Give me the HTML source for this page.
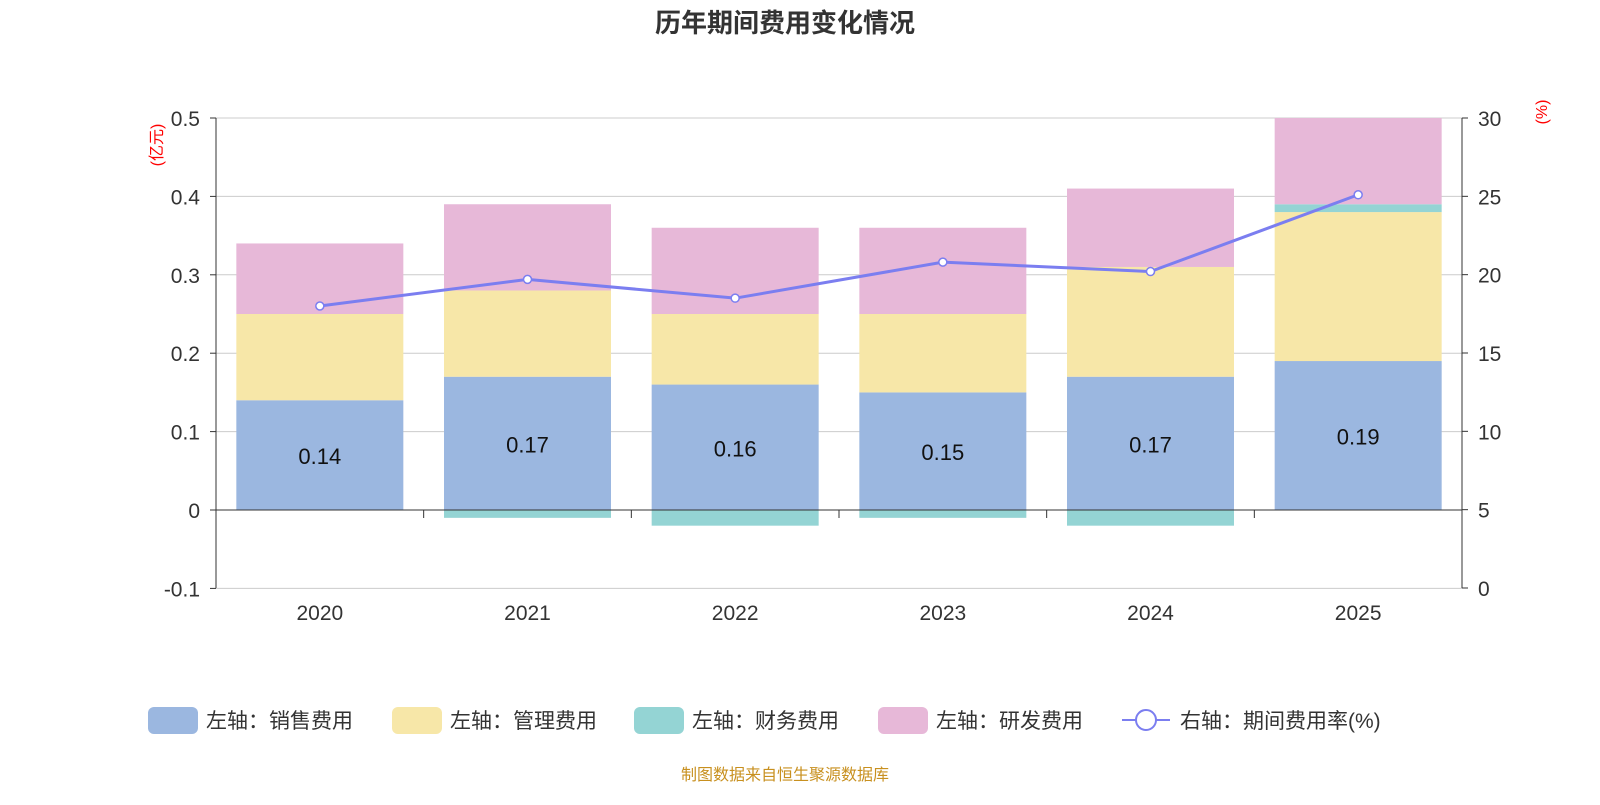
<!DOCTYPE html>
<html><head><meta charset="utf-8"><style>
body{margin:0;background:#fff;width:1600px;height:800px;overflow:hidden;font-family:"Liberation Sans","Noto Sans CJK SC",sans-serif}
svg text{font-family:"Liberation Sans","Noto Sans CJK SC",sans-serif}
</style></head><body>
<svg id="c" width="1600" height="800"></svg>
<script>
const categories=["2020","2021","2022","2023","2024","2025"];
const sales=[0.14,0.17,0.16,0.15,0.17,0.19];
const mgmt=[0.11,0.11,0.09,0.10,0.14,0.19];
const fin=[0,-0.01,-0.02,-0.01,-0.02,0.01];
const rnd=[0.09,0.11,0.11,0.11,0.10,0.11];
const rate=[18.0,19.7,18.5,20.8,20.2,25.1];
const leftTicks=[0.5,0.4,0.3,0.2,0.1,0,-0.1];
const rightTicks=[30,25,20,15,10,5,0];
const NS="http://www.w3.org/2000/svg",svg=document.getElementById('c');
const X0=216,X1=1462,bw=(X1-X0)/6;
const yL=v=>510-v*784, yR=v=>588-v*(470/30), xC=i=>X0+bw*(i+0.5);
function mk(t,a,txt){const e=document.createElementNS(NS,t);for(const k in a)e.setAttribute(k,a[k]);if(txt!=null)e.textContent=txt;svg.appendChild(e);return e;}
let e=mk('text',{x:785,y:32,'text-anchor':'middle','font-size':26,'font-weight':'bold',fill:'#333'},'历年期间费用变化情况');

leftTicks.forEach(v=>{let g=mk('line',{x1:X0,x2:X1,y1:yL(v),y2:yL(v),stroke:'#ccc'});

let t=mk('text',{x:200,y:yL(v)+8,'text-anchor':'end','font-size':21,fill:'#333'},String(v));

mk('line',{x1:X0-6,x2:X0,y1:yL(v),y2:yL(v),stroke:'#333'});});
rightTicks.forEach(v=>{let t=mk('text',{x:1478,y:yR(v)+8,'font-size':21,fill:'#333'},String(v));

mk('line',{x1:X1,x2:X1+6,y1:yR(v),y2:yR(v),stroke:'#333'});});
mk('line',{x1:X0,x2:X0,y1:118,y2:588,stroke:'#333'});
mk('line',{x1:X1,x2:X1,y1:118,y2:588,stroke:'#333'});
e=mk('text',{transform:'translate(162,145) rotate(-90)','text-anchor':'middle','font-size':16,fill:'red'},'(亿元)');

e=mk('text',{transform:'translate(1547,112) rotate(-90)','text-anchor':'middle','font-size':16,fill:'red'},'(%)');

const bW=167;
categories.forEach((c,i)=>{
 const x=xC(i)-bW/2;
 const rect=(y0,y1,col,n)=>{const r=mk('rect',{x:x,y:Math.min(yL(y0),yL(y1)),width:bW,height:Math.abs(yL(y0)-yL(y1)),fill:col});
  };
 let pos=0,neg=0;
 rect(0,sales[i],'#9bb7e0','bar-sales-'+c);pos=sales[i];
 rect(pos,pos+mgmt[i],'#f7e7a8','bar-mgmt-'+c);pos+=mgmt[i];
 if(fin[i]>=0){rect(pos,pos+fin[i],'#94d4d4','bar-fin-'+c);pos+=fin[i];}else{rect(0,fin[i],'#94d4d4','bar-fin-'+c);}
 rect(pos,pos+rnd[i],'#e7b8d8','bar-rnd-'+c);
 let t=mk('text',{x:xC(i),y:yL(sales[i]/2)+9,'text-anchor':'middle','font-size':22,fill:'#111'},String(sales[i]));
 
 t=mk('text',{x:xC(i),y:620,'text-anchor':'middle','font-size':21,fill:'#333'},c);
 
});
mk('line',{x1:X0,x2:X1,y1:510,y2:510,stroke:'#333'});
for(let i=0;i<=6;i++)mk('line',{x1:X0+bw*i,x2:X0+bw*i,y1:510,y2:518,stroke:'#333'});
let pl=mk('polyline',{points:rate.map((v,i)=>xC(i)+','+yR(v)).join(' '),fill:'none',stroke:'#7b7ef0','stroke-width':3});

rate.forEach((v,i)=>{let p=mk('circle',{cx:xC(i),cy:yR(v),r:4,fill:'#fff',stroke:'#7b7ef0','stroke-width':1.5});
});
const leg=[['左轴：销售费用','#9bb7e0',148],['左轴：管理费用','#f7e7a8',392],['左轴：财务费用','#94d4d4',634],['左轴：研发费用','#e7b8d8',878]];
leg.forEach(l=>{let r=mk('rect',{x:l[2],y:707,width:50,height:27,rx:6,fill:l[1]});

let t=mk('text',{x:l[2]+58,y:728,'font-size':21,fill:'#333'},l[0]);
});
mk('line',{x1:1122,x2:1170,y1:720,y2:720,stroke:'#7b7ef0','stroke-width':2});
e=mk('circle',{cx:1146,cy:720,r:10,fill:'#fff',stroke:'#7b7ef0','stroke-width':2});

e=mk('text',{x:1180,y:728,'font-size':21,fill:'#333'},'右轴：期间费用率(%)');

e=mk('text',{x:785,y:780,'text-anchor':'middle','font-size':16,fill:'#c8901f'},'制图数据来自恒生聚源数据库');

</script>
</body></html>
